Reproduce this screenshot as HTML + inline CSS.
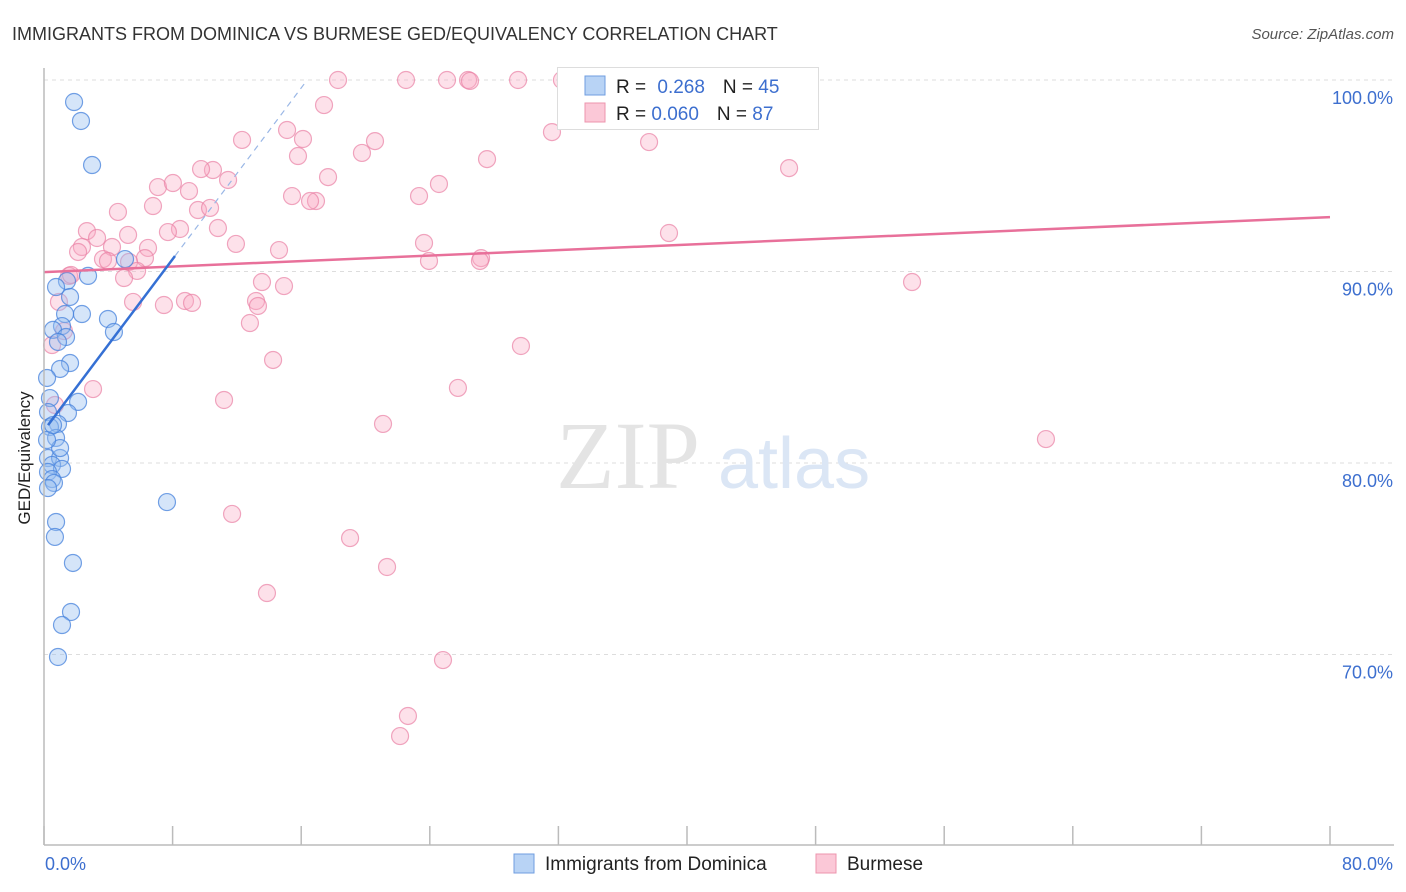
<!DOCTYPE html>
<html><head><meta charset="utf-8">
<style>
body{margin:0;background:#fff;font-family:"Liberation Sans",sans-serif;}
#wrap{position:relative;width:1406px;height:892px;overflow:hidden;}
</style></head>
<body>
<div id="wrap">
<svg id="svg" width="1406" height="892" xmlns="http://www.w3.org/2000/svg">
<text x="12" y="40" font-size="18" fill="#333">IMMIGRANTS FROM DOMINICA VS BURMESE GED/EQUIVALENCY CORRELATION CHART</text>
<text x="1394" y="39" font-size="15" fill="#555" font-style="italic" text-anchor="end">Source: ZipAtlas.com</text>
<g id="grid"></g>
<text x="700" y="488" font-size="96" fill="#e4e4e4" font-family="Liberation Serif,serif" text-anchor="end">ZIP</text>
<text x="718" y="488" font-size="72" fill="#dbe6f5">atlas</text>
<g id="pts"></g>
<g id="lines"></g>
<g id="axes"></g>
<text x="30" y="458" font-size="17" fill="#222" text-anchor="middle" transform="rotate(-90 30 458)">GED/Equivalency</text>
<g>
<rect x="557.5" y="67.5" width="261" height="62" fill="#fff" stroke="#ddd"/>
<rect x="585" y="76" width="20" height="19" fill="#b8d3f5" stroke="#6f9ee0"/>
<rect x="585" y="103" width="20" height="19" fill="#fbc8d7" stroke="#ec94ae"/>
<text x="616" y="93" font-size="19" fill="#222">R = <tspan fill="#3d6fcf" dx="6">0.268</tspan><tspan dx="18">N = </tspan><tspan fill="#3d6fcf">45</tspan></text>
<text x="616" y="120" font-size="19" fill="#222">R = <tspan fill="#3d6fcf">0.060</tspan><tspan dx="18">N = </tspan><tspan fill="#3d6fcf">87</tspan></text>
</g>
<g>
<rect x="514" y="854" width="20" height="19" fill="#b8d3f5" stroke="#6f9ee0"/>
<text x="545" y="870" font-size="19" fill="#222">Immigrants from Dominica</text>
<rect x="816" y="854" width="20" height="19" fill="#fbc8d7" stroke="#ec94ae"/>
<text x="847" y="870" font-size="19" fill="#222">Burmese</text>
</g>
</svg>
</div>
<script>
const blueX=[1.87,2.30,2.99,5.04,2.74,1.43,0.75,2.36,3.98,1.31,1.12,0.56,4.35,1.37,0.87,1.62,1.00,0.19,2.12,0.37,1.49,0.25,0.87,0.37,0.75,0.25,1.00,0.50,1.12,0.25,0.50,0.62,0.25,7.65,0.75,0.68,1.80,1.68,1.12,0.87,1.00,1.62,0.19,0.56];
const blueY=[98.85,97.86,95.56,90.65,89.77,89.50,89.19,87.78,87.52,87.78,87.15,86.95,86.84,86.58,86.32,85.22,84.91,84.44,83.19,83.39,82.61,82.66,82.04,81.88,81.31,80.26,80.26,79.90,79.69,79.53,79.16,78.96,78.69,77.96,76.92,76.14,74.78,72.22,71.54,69.87,80.78,88.67,81.20,81.98];
const pinkX=[18.29,22.52,25.07,26.38,26.50,29.49,32.22,17.42,12.32,15.12,20.59,16.11,31.60,37.64,15.80,19.78,27.56,46.35,10.51,9.77,11.45,7.09,8.02,9.02,17.67,24.57,15.43,16.92,16.55,23.33,6.78,4.60,9.58,10.33,2.67,8.46,7.71,5.23,3.30,10.82,2.36,4.23,2.12,6.47,11.94,14.62,23.64,38.88,3.67,6.28,3.98,5.29,27.19,27.12,23.95,1.56,5.79,4.98,13.56,14.93,1.68,5.54,7.46,8.77,9.21,13.19,13.31,54.00,0.93,12.81,1.24,29.67,14.25,3.05,25.75,11.20,21.09,62.33,11.70,19.04,21.34,13.87,24.82,22.64,22.15,0.50,0.68];
const pinkY=[100,100,100,100,99.95,100,100,98.69,96.87,97.39,96.81,96.92,97.28,96.76,96.03,96.19,95.87,95.40,95.30,95.35,94.78,94.41,94.62,94.20,94.93,94.57,93.94,93.68,93.68,93.94,93.42,93.11,93.21,93.32,92.11,92.22,92.06,91.91,91.75,92.27,91.28,91.28,91.02,91.23,91.44,91.12,91.49,92.01,90.65,90.70,90.55,90.50,90.70,90.55,90.55,89.77,90.03,89.66,89.45,89.24,89.82,88.41,88.25,88.46,88.36,88.46,88.20,89.45,88.41,87.31,86.89,86.11,85.38,83.86,83.92,83.29,82.04,81.25,77.34,76.08,74.57,73.21,69.71,66.79,65.74,86.16,83.03];
const yTicks=[100,90,80,70];
const yTickLabels=["100.0%","90.0%","80.0%","70.0%"];
const xTicks=[0,8,16,24,32,40,48,56,64,72,80];
const blueTrend=[[0.25,81.98],[8.15,90.81]];
const blueDash=[[8.15,90.81],[16.37,100]];
const pinkTrend=[[0,89.97],[80,92.84]];

const NS="http://www.w3.org/2000/svg";
const X=v=>44+v/80*1286;
const Y=v=>80+(100-v)*19.15;
function mk(tag,attrs,parent){const e=document.createElementNS(NS,tag);for(const k in attrs)e.setAttribute(k,attrs[k]);parent.appendChild(e);return e;}
const grid=document.getElementById('grid'),pts=document.getElementById('pts'),lines=document.getElementById('lines'),axes=document.getElementById('axes'),svg=document.getElementById('svg');
yTicks.forEach((t,i)=>{
  const l=mk('line',{x1:44,x2:1394,y1:Y(t),y2:Y(t),stroke:'#ddd','stroke-dasharray':'4 4'},grid);
  
  
  const tx=mk('text',{x:1393,y:Y(t)+24,'font-size':18,fill:'#3d6fcf','text-anchor':'end'},svg);
  tx.textContent=yTickLabels[i];
  
  
});
pinkX.forEach((x,i)=>{
  const c=mk('circle',{cx:X(x),cy:Y(pinkY[i]),r:8.5,fill:'rgba(248,170,195,0.35)',stroke:'rgba(234,130,165,0.7)','stroke-width':1.2},pts);
  
  
});
blueX.forEach((x,i)=>{
  const c=mk('circle',{cx:X(x),cy:Y(blueY[i]),r:8.5,fill:'rgba(150,190,240,0.4)',stroke:'rgba(70,130,220,0.75)','stroke-width':1.2},pts);
  
  
});
function ln(p,attrs,name){const l=mk('line',Object.assign({x1:X(p[0][0]),y1:Y(p[0][1]),x2:X(p[1][0]),y2:Y(p[1][1])},attrs),lines);}
ln(pinkTrend,{stroke:'#e8709a','stroke-width':2.5},'burmese-trend-line');
ln(blueTrend,{stroke:'#3570d4','stroke-width':2.5},'dominica-trend-line');
ln(blueDash,{stroke:'#9ab7e6','stroke-width':1.2,'stroke-dasharray':'6 5'},'dominica-trend-extension');
let a=mk('line',{x1:44,x2:44,y1:68,y2:845,stroke:'#bbb','stroke-width':1.5},axes);

a=mk('line',{x1:44,x2:1394,y1:845,y2:845,stroke:'#bbb','stroke-width':1.5},axes);

xTicks.forEach(t=>{
  const l=mk('line',{x1:X(t),x2:X(t),y1:826,y2:845,stroke:'#bbb','stroke-width':1.5},axes);
  
  
});
let t1=mk('text',{x:45,y:870,'font-size':18,fill:'#3d6fcf'},svg);t1.textContent='0.0%';

let t2=mk('text',{x:1393,y:870,'font-size':18,fill:'#3d6fcf','text-anchor':'end'},svg);t2.textContent='80.0%';

</script>
</body></html>
